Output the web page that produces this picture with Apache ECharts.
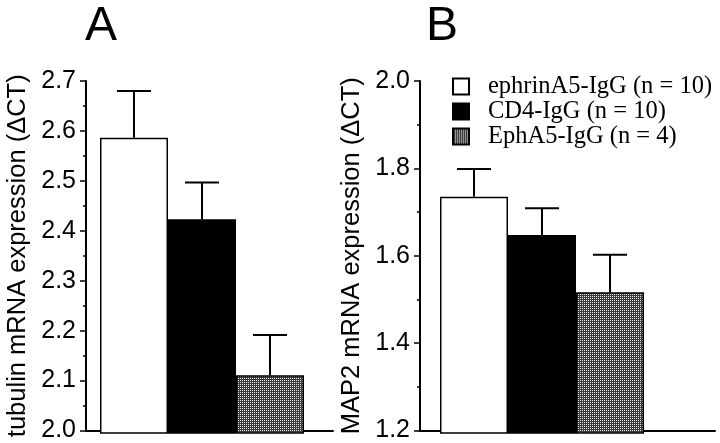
<!DOCTYPE html>
<html lang="en">
<head>
    <meta charset="UTF-8">
    <title>tubulin / MAP2 mRNA expression</title>
    <script src="https://cdn.jsdelivr.net/npm/echarts@6/dist/echarts.min.js"></script>
    <style>
        html, body { margin: 0; padding: 0; background: #fff; }
        #chart1 { width: 720px; height: 443px; }
    </style>
</head>
<body>
<div id="chart1"></div>
<script>
    // groups (legend order)
    var groups = ['ephrinA5-IgG (n = 10)', 'CD4-IgG (n = 10)', 'EphA5-IgG (n = 4)'];
    // panel A: tubulin mRNA expression (dCT), mean and SEM
    var tubulinMean = [2.587, 2.425, 2.115];
    var tubulinSem = [0.093, 0.073, 0.080];
    // panel B: MAP2 mRNA expression (dCT), mean and SEM
    var map2Mean = [1.737, 1.650, 1.520];
    var map2Sem = [0.063, 0.061, 0.085];

    // dithered gray fill for EphA5 bars (dark grid with light dots)
    var pat = document.createElement('canvas');
    pat.width = 2; pat.height = 2;
    var pc = pat.getContext('2d');
    pc.fillStyle = '#3c3c3c'; pc.fillRect(0, 0, 2, 2);
    pc.fillStyle = '#e6e6e6'; pc.fillRect(0, 0, 1, 1);
    var fills = ['#ffffff', '#000000', {image: pat, repeat: 'repeat'}];

    var myChart1 = echarts.init(document.getElementById('chart1'));

    var font = 'Liberation Sans, Arial, sans-serif';

    function yAx(grid, min, max, step, name, show) {
        return {
            type: 'value', gridIndex: grid, min: min, max: max, interval: step,
            show: show,
            name: name, nameLocation: 'middle', nameGap: 55,
            nameTextStyle: {fontFamily: font, fontSize: 25.5, color: '#000'},
            axisLine: {show: true, lineStyle: {color: '#000', width: 2}},
            axisTick: {show: true, inside: false, length: 6, lineStyle: {color: '#000', width: 1.5}},
            minorTick: {show: true, splitNumber: 2, length: 3, lineStyle: {color: '#000', width: 1.5}},
            axisLabel: {fontFamily: font, fontSize: 25, color: '#000', margin: 10,
                formatter: function (v) { return v.toFixed(1); }},
            splitLine: {show: false}
        };
    }

    function outerX(grid) {
        return {
            type: 'value', gridIndex: grid, min: 0, max: 1,
            axisLine: {show: true, onZero: false, lineStyle: {color: '#000', width: 2}},
            axisTick: {show: false}, axisLabel: {show: false}, splitLine: {show: false}
        };
    }

    function innerX(grid) {
        return {type: 'category', gridIndex: grid, data: groups, show: false, boundaryGap: true};
    }

    function barSeries(grid, mean) {
        return groups.map(function (g, i) {
            var d = mean.map(function (v, j) { return j === i ? v : '-'; });
            return {
                name: g, type: 'bar', xAxisIndex: grid, yAxisIndex: grid,
                barWidth: '100%', barGap: '-100%',
                itemStyle: {color: fills[i], borderColor: '#000', borderWidth: 1.5},
                data: d
            };
        });
    }

    function errSeries(grid, mean, sem) {
        return {
            type: 'custom', xAxisIndex: grid, yAxisIndex: grid, z: 5,
            data: mean.map(function (v, i) { return [i, v, v + sem[i]]; }),
            renderItem: function (params, api) {
                var lo = api.coord([api.value(0), api.value(1)]);
                var hi = api.coord([api.value(0), api.value(2)]);
                var half = api.size([1, 0])[0] / 4;
                var st = {stroke: '#000', lineWidth: 2};
                return {
                    type: 'group',
                    children: [
                        {type: 'line', shape: {x1: lo[0], y1: lo[1], x2: hi[0], y2: hi[1]}, style: st},
                        {type: 'line', shape: {x1: hi[0] - half, y1: hi[1], x2: hi[0] + half, y2: hi[1]}, style: st}
                    ]
                };
            }
        };
    }

    var series = []
        .concat(barSeries(1, tubulinMean))
        .concat([errSeries(1, tubulinMean, tubulinSem)])
        .concat(barSeries(3, map2Mean))
        .concat([errSeries(3, map2Mean, map2Sem)]);

    myChart1.setOption({
        animation: false,
        title: [
            {text: 'A', left: 80, top: -2, textStyle: {fontFamily: font, fontSize: 48, fontWeight: 'normal', color: '#000'}},
            {text: 'B', left: 421, top: -2, textStyle: {fontFamily: font, fontSize: 48, fontWeight: 'normal', color: '#000'}}
        ],
        legend: {
            orient: 'vertical', left: 452, top: 74, padding: 0,
            itemWidth: 16, itemHeight: 16, itemGap: 0,
            icon: 'rect',
            selectedMode: false,
            textStyle: {fontFamily: 'Liberation Serif, Times New Roman, serif', fontSize: 24.5, color: '#000',
                lineHeight: 24, padding: [0, 0, 0, 14]},
            data: groups
        },
        grid: [
            {left: 86, top: 81, width: 247, height: 352},
            {left: 100, top: 81, width: 204, height: 352},
            {left: 420, top: 81, width: 295, height: 352},
            {left: 440, top: 81, width: 204, height: 352}
        ],
        xAxis: [outerX(0), innerX(1), outerX(2), innerX(3)],
        yAxis: [
            yAx(0, 2.0, 2.7, 0.1, 'tubulin mRNA expression (\u0394CT)', true),
            yAx(1, 2.0, 2.7, 0.1, '', false),
            yAx(2, 1.2, 2.0, 0.2, 'MAP2 mRNA expression (\u0394CT)', true),
            yAx(3, 1.2, 2.0, 0.2, '', false)
        ],
        series: series
    });
</script>
</body>
</html>
